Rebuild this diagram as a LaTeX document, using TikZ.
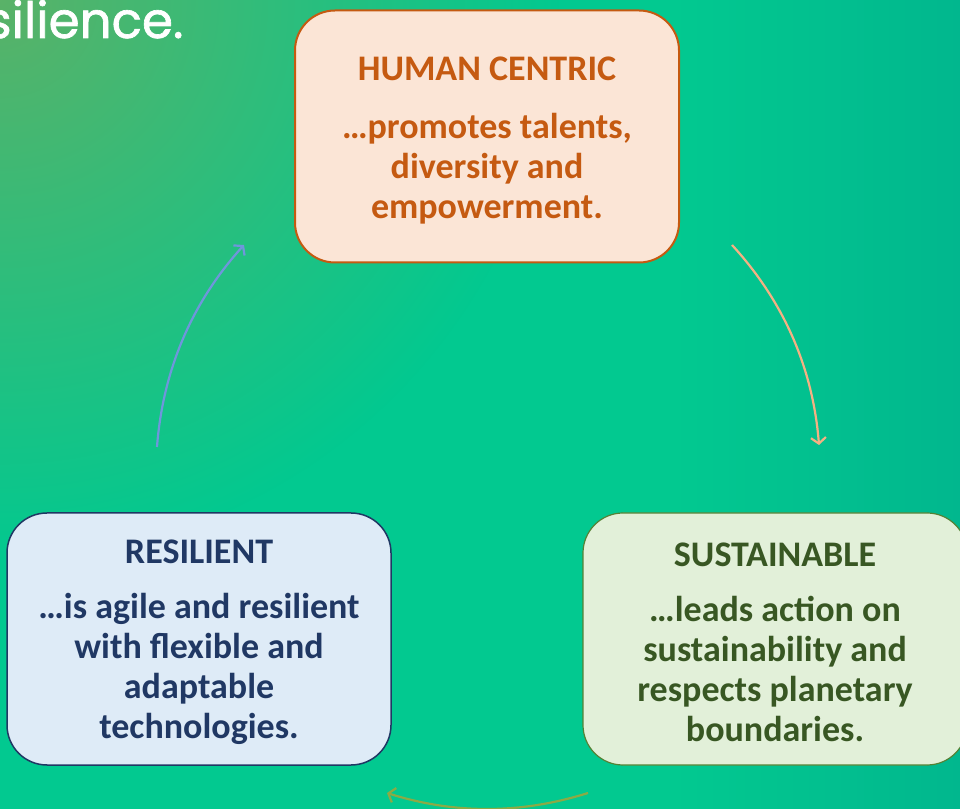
\documentclass[tikz,border=0pt]{standalone}
\usepackage{fontspec}
\setmainfont{Carlito}
\newfontfamily\popp{Poppins}[FakeBold=1.3]
\usetikzlibrary{arrows.meta,fadings}

\definecolor{bgmid}{HTML}{02C990}
\definecolor{bgright}{HTML}{00998A}
\definecolor{bgglow}{HTML}{5AB268}
\definecolor{hcfill}{HTML}{FBE5D6}
\definecolor{hcline}{HTML}{C55A11}
\definecolor{refill}{HTML}{DEEBF7}
\definecolor{reline}{HTML}{203864}
\definecolor{sufill}{HTML}{E2F0D9}
\definecolor{suline}{HTML}{548235}
\definecolor{sutext}{HTML}{385723}
\definecolor{arrorange}{HTML}{F4B183}
\definecolor{arrgreen}{HTML}{8BAA45}
\definecolor{arrblue}{HTML}{6F96DC}

\pgfdeclarehorizontalshading{bgshade}{100bp}{color(0bp)=(bgmid); color(60bp)=(bgmid); color(100bp)=(bgright)}
\tikzfading[name=glowfade, inner color=transparent!0, outer color=transparent!100]

\newcommand{\cardtitle}[1]{\rule{0pt}{31pt}#1}

\tikzset{
  card/.style={rectangle, rounded corners=40pt, minimum width=384pt, minimum height=252pt,
    align=center, font=\bfseries\fontsize{36}{40}\selectfont},
  cycle/.style={->, line width=2.2pt, bend left=19, looseness=0.9}
}

\begin{document}
\begin{tikzpicture}[x=1pt, y=1pt]
	\tikzset{>={Straight Barb[length=6pt,width=15pt]}}
	\useasboundingbox (0,0) rectangle (960,808);
	\clip (0,0) rectangle (960,808);
	\shade[shading=bgshade] (0,0) rectangle (960,808);
	\fill[bgglow, path fading=glowfade] (0,808) circle (560);

	\node[anchor=base east, text=white, font=\popp\fontsize{50}{50}\selectfont] (t) at (187,770) {silience.};

	\node[card, fill=hcfill, draw=hcline, line width=2pt, text=hcline] (hc) at (487,671.5)
	  {\cardtitle{HUMAN CENTRIC}\\[18pt] \dots promotes talents,\\ diversity and\\ empowerment.};
	\node[card, fill=refill, draw=reline, line width=1.5pt, text=reline] (re) at (199,169)
	  {\cardtitle{RESILIENT}\\[15pt] \dots is agile and resilient\\ with flexible and\\ adaptable\\ technologies.};
	\node[card, fill=sufill, draw=suline, line width=1.2pt, text=sutext] (su) at (775,169)
	  {\cardtitle{SUSTAINABLE}\\[15pt] \dots leads action on\\ sustainability and\\ respects planetary\\ boundaries.};

	\coordinate (a1) at (732,563);
	\coordinate (a2) at (819,363);
	\coordinate (a3) at (588,15);
	\coordinate (a4) at (387,15);
	\coordinate (a5) at (157,361);
	\coordinate (a6) at (244,563);
	\draw[cycle, arrorange] (a1) to (a2);
	\draw[cycle, arrgreen, bend left=17.5] (a3) to (a4);
	\draw[cycle, arrblue] (a5) to (a6);
	% \draw[->] (hc) -- (su);
\end{tikzpicture}
\end{document}
